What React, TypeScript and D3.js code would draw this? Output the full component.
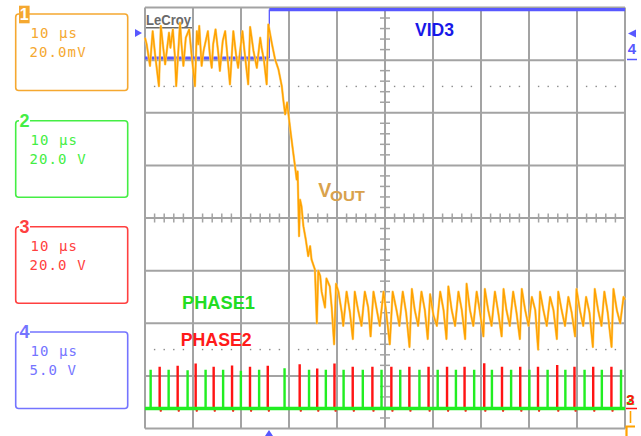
import React from "react";
import * as d3 from "d3";

// screen: 10 µs/div across 10 divisions, 8 vertical divisions
const timeDomain = [0, 100];
const divDomain = [-4, 4];

// channel 1: VOUT, mV (20 mV/div), [µs, mV]
const vOutBefore: [number, number][] = [
  [0, 68.5], [0.35, 66], [1.04, 57.8], [1.6, 71], [2.1, 62.2], [2.9, 50.1], [3.3, 73], [3.8, 64.7],
  [4.2, 58.4], [5.0, 70.4], [5.3, 64.7], [5.8, 71.7], [6.25, 60.9], [6.5, 50.1], [7.3, 74.2], [7.6, 66],
  [8.0, 57.8], [8.5, 68.5], [9.2, 71.7], [9.7, 62.2], [10.4, 50.1], [10.8, 71], [11.1, 66], [11.3, 73],
  [11.8, 57.8], [12.2, 63.5], [13.1, 71], [13.5, 62.2], [13.9, 57.1], [14.2, 66], [14.7, 71.7], [15.3, 62.2],
  [15.6, 55.9], [16.2, 67.3], [16.7, 71], [17.2, 60.9], [17.7, 50.8], [18.4, 71], [18.96, 62.2], [19.4, 57.1],
  [20.3, 71], [20.8, 62.2], [21.5, 50.8], [21.9, 72.6], [22.6, 63.5], [23.3, 57.1], [24.0, 68.5], [24.3, 64.7],
  [24.8, 59.7], [25.35, 50.8], [25.7, 73.6],
];
const vOutFall: [number, number][] = [
  [26.4, 66.6], [27.1, 60.3], [27.8, 56.5], [28.5, 50.1], [28.8, 45.1], [29.2, 39.4], [29.6, 43.9], [30.1, 36.2],
  [30.35, 32.4], [30.8, 26], [31.25, 19.7], [31.6, 14.6], [31.8, 17.7], [32.1, -6.9], [32.3, 7], [32.6, 4.5],
  [33.0, -3.1], [33.5, -8.2], [34.0, -14.5], [34.4, -10.7], [34.7, -15.8], [35.4, -19.6], [35.8, -40], [36.1, -20],
  [36.5, -22],
];
const vOutAfter: [number, number][] = [
  [36.8, -28], [37.5, -34], [37.8, -23], [38.5, -26], [38.9, -34], [39.4, -48], [39.8, -25], [40.3, -28],
  [41.0, -36], [41.3, -41], [42.0, -28], [42.7, -36], [43.3, -46], [43.7, -28], [44.4, -35], [45.1, -41],
  [45.8, -28], [46.5, -34], [47.0, -45], [47.6, -28], [48.3, -35], [48.9, -41], [49.7, -28], [50.2, -35],
  [51.0, -48], [51.6, -28], [52.4, -35], [53.0, -41], [53.7, -28], [54.4, -36], [55.1, -49], [55.6, -27],
  [56.2, -35], [56.9, -41], [57.6, -28], [58.3, -35], [58.9, -46], [59.4, -29], [60.1, -37], [60.8, -41],
  [61.5, -28], [62.2, -35], [62.8, -46], [63.2, -26], [63.9, -35], [64.6, -41], [65.3, -28], [66.0, -35],
  [66.7, -46], [67.0, -25], [67.7, -35], [68.4, -41], [69.1, -28], [69.8, -36], [70.5, -45], [70.8, -27],
  [71.5, -35], [72.2, -41], [72.9, -28], [73.6, -36], [74.3, -45], [74.7, -27], [75.3, -35], [76.0, -41],
  [76.7, -28], [77.4, -36], [78.1, -46], [78.5, -27], [79.2, -35], [79.9, -41], [80.6, -30], [81.3, -35],
  [81.9, -50], [82.3, -28], [83.0, -35], [83.7, -41], [84.4, -30], [85.1, -35], [85.8, -46], [86.1, -28],
  [86.8, -35], [87.5, -41], [88.2, -30], [88.9, -36], [89.6, -45], [89.9, -27], [90.6, -35], [91.3, -41],
  [91.9, -30], [92.6, -36], [93.3, -49], [93.7, -27], [94.4, -35], [95.1, -41], [95.7, -28], [96.4, -36],
  [97.2, -49], [97.6, -27], [98.3, -35], [99.0, -40], [99.7, -30], [100, -31],
];

// channel 4: VID3, V (5 V/div)
const vid3EdgeUs = 25.9;
const vid3Low = 15.2;
const vid3High = 19.8;

// channels 2 and 3: PHASE1 / PHASE2, V (20 V/div)
const phaseGroundV = -72.4;
const phase1Times = [1.1, 4.85, 8.8, 12.55, 16.2, 19.9, 23.7, 29.0, 34.1, 37.6, 41.3, 45.3, 49.2, 53.1, 57.1, 60.9,
  64.7, 68.5, 72.2, 76.2, 80.0, 83.8, 87.5, 91.5, 95.1, 99.1];
const phase1Peaks = [14.4, 14.4, 14.2, 14.4, 14.4, 14.0, 14.4, 15.0, 14.4, 14.4, 14.4, 14.4, 14.4, 14.4, 14.4, 14.4,
  14.4, 14.4, 14.4, 14.4, 14.4, 14.4, 14.4, 14.4, 14.4, 14.4];
const phase2Times = [2.98, 6.73, 10.48, 14.23, 18.06, 21.8, 25.5, 32.15, 35.8, 39.4, 43.2, 47.3, 51.25, 55.0, 59.0,
  62.85, 66.5, 70.6, 74.3, 78.1, 81.8, 85.8, 89.4, 93.3, 97.1];
const phase2Peaks = [15.5, 15.9, 16.8, 15.5, 16.0, 15.5, 15.9, 16.5, 14.9, 16.8, 15.5, 15.5, 15.5, 15.5, 15.5,
  15.5, 15.5, 16.9, 15.5, 15.5, 15.5, 16.2, 15.5, 15.5, 15.5];
const pulseWidthUs = 0.15;
const phase2Undershoot = -1.2;

// channel descriptor boxes
const channelIds = ["1", "2", "3", "4"];
const channelTimebase = ["10 µs", "10 µs", "10 µs", "10 µs"];
const channelScales = ["20.0mV", "20.0 V", "20.0 V", "5.0 V"];

const gridColor = "#a3a3a3";
const orange = "#ffa200";
const green = "#22ee22";
const red = "#ff1414";
const blue = "#5858ff";
const boxColors = ["#f5a830", "#44ee44", "#ff4040", "#7474ff"];
const boxTops = [14, 120.7, 226.7, 332];

const pulsePoints = (times: number[], peaks: number[], dip?: number) => {
  const pts: [number, number][] = [[timeDomain[0], 0]];
  times.forEach((t, i) => {
    pts.push([t, 0], [t, peaks[i]], [t + pulseWidthUs, peaks[i]], [t + pulseWidthUs, 0]);
    if (dip !== undefined) pts.push([t + pulseWidthUs + 0.15, dip], [t + pulseWidthUs + 0.3, 0]);
  });
  pts.push([timeDomain[1], 0]);
  return pts;
};

const App: React.FC = () => {
  const left = 145, right = 625, top = 7.5, bottom = 428.5;
  const x = d3.scaleLinear().domain(timeDomain).range([left, right]);
  const yDiv = d3.scaleLinear().domain(divDomain).range([bottom, top]);
  const yMv = d3.scaleLinear().domain([-80, 80]).range([bottom, top]);
  const y5V = d3.scaleLinear().domain([-20, 20]).range([bottom, top]);
  const y20V = d3.scaleLinear().domain([-80, 80]).range([bottom, top]);

  const majorT = d3.range(0, 101, 10);
  const majorDiv = d3.range(-4, 5, 1);
  const minorT = d3.range(0, 100.01, 2).filter(t => t % 10 !== 0);
  const minorDiv = d3.range(-4, 4.01, 0.2).filter(d => Math.abs(d - Math.round(d)) > 0.01);
  const dotRows = [2.5, -2.5];

  const vOutLine = d3.line<[number, number]>().x(d => x(d[0])).y(d => yMv(d[1]));
  const phaseLine = d3.line<[number, number]>().x(d => x(d[0])).y(d => y20V(d[1] + phaseGroundV));

  const phase1Path = phaseLine(pulsePoints(phase1Times, phase1Peaks)) ?? "";
  const phase2Path = phaseLine(pulsePoints(phase2Times, phase2Peaks, phase2Undershoot)) ?? "";
  const vOutPath = vOutLine([...vOutBefore, ...vOutFall, ...vOutAfter]) ?? "";
  const baseY = y20V(phaseGroundV);

  const mono = "'DejaVu Sans Mono', 'Liberation Mono', monospace";
  const sans = "'Liberation Sans', Arial, sans-serif";

  return (
    <svg width={641} height={436} style={{ position: "absolute", left: 0, top: 0, background: "#fff" }}>
      <rect x={0} y={0} width={641} height={436} fill="#fff" />

      {/* channel boxes */}
      {channelIds.map((id, i) => {
        const bt = boxTops[i];
        const c = boxColors[i];
        return (
          <g key={id}>
            <rect x={15.7} y={bt} width={112} height={76.5} rx={3} fill="none" stroke={c} strokeWidth={1.6} />
            {i === 0 ? (
              <>
                <rect x={19} y={bt - 8.3} width={10.6} height={17.6} fill={c} />
                <text x={24.3} y={bt + 6} textAnchor="middle" fontFamily={sans} fontWeight="bold" fontSize={16} fill="#fff">{id}</text>
              </>
            ) : (
              <>
                <rect x={19} y={bt - 8} width={11} height={12} fill="#fff" />
                <text x={24.5} y={bt + 6} textAnchor="middle" fontFamily={sans} fontWeight="bold" fontSize={18} fill={c}>{id}</text>
              </>
            )}
            <text x={30.5} y={bt + 24} fontFamily={mono} fontSize={14} letterSpacing={1.1} fill={c}>{channelTimebase[i]}</text>
            <text x={29.5} y={bt + 43} fontFamily={mono} fontSize={14} letterSpacing={1.1} fill={c}>{channelScales[i]}</text>
          </g>
        );
      })}

      {/* graticule */}
      <g stroke={gridColor} strokeWidth={2}>
        {majorT.map(t => <line key={`v${t}`} x1={x(t)} x2={x(t)} y1={top} y2={bottom} />)}
        {majorDiv.map(d => <line key={`h${d}`} x1={left} x2={right} y1={yDiv(d)} y2={yDiv(d)} />)}
      </g>
      <g stroke={gridColor} strokeWidth={1.5}>
        {minorT.map(t => <line key={`mt${t}`} x1={x(t)} x2={x(t)} y1={yDiv(0) - 4.5} y2={yDiv(0) + 4.5} />)}
        {minorDiv.map(d => <line key={`md${d}`} x1={x(50) - 5} x2={x(50) + 5} y1={yDiv(d)} y2={yDiv(d)} />)}
      </g>
      <g fill="#8a8a8a">
        {dotRows.map(r => minorT.map(t => <rect key={`d${r}${t}`} x={x(t) - 0.7} y={yDiv(r) - 0.7} width={1.4} height={1.4} />))}
      </g>

      {/* LeCroy logo */}
      <text x={146} y={25} fontFamily={sans} fontWeight="bold" fontSize={14} fill="#6a6a6a" textLength={45} lengthAdjust="spacingAndGlyphs">LeCroy</text>
      <line x1={146} x2={192} y1={27.8} y2={27.8} stroke="#6a6a6a" strokeWidth={1.5} />

      {/* VID3 */}
      <line x1={x(0)} x2={x(vid3EdgeUs)} y1={y5V(vid3Low)} y2={y5V(vid3Low)} stroke={blue} strokeWidth={3.2} />
      <line x1={x(vid3EdgeUs)} x2={x(vid3EdgeUs)} y1={y5V(vid3Low)} y2={y5V(vid3High)} stroke={blue} strokeWidth={1.3} />
      <line x1={x(vid3EdgeUs)} x2={x(100)} y1={y5V(vid3High)} y2={y5V(vid3High)} stroke={blue} strokeWidth={3.2} />

      {/* VOUT */}
      <path d={vOutPath} fill="none" stroke="#ffd27a" strokeWidth={2.4} strokeLinejoin="round" />
      <path d={vOutPath} fill="none" stroke={orange} strokeWidth={1.4} strokeLinejoin="round" />

      {/* PHASE2 then PHASE1 */}
      <path d={phase2Path} fill="none" stroke={red} strokeWidth={1.7} />
      <line x1={x(0)} x2={x(100)} y1={baseY} y2={baseY} stroke={green} strokeWidth={3.4} />
      <path d={phase1Path} fill="none" stroke={green} strokeWidth={1.7} />

      {/* labels */}
      <text x={415} y={36} fontFamily={sans} fontWeight="bold" fontSize={19} fill="#1818e8" textLength={39} lengthAdjust="spacingAndGlyphs">VID3</text>
      <text x={318.3} y={196.7} fontFamily={sans} fontWeight="bold" fontSize={19.5} fill="#d9a24c">V</text>
      <text x={330} y={200.5} fontFamily={sans} fontWeight="bold" fontSize={15} fill="#d9a24c" textLength={35} lengthAdjust="spacingAndGlyphs">OUT</text>
      <text x={182} y={309} fontFamily={sans} fontWeight="bold" fontSize={17.5} fill="#22dd22" textLength={73} lengthAdjust="spacingAndGlyphs">PHASE1</text>
      <text x={180.7} y={345.7} fontFamily={sans} fontWeight="bold" fontSize={17.5} fill="#ff1a1a" textLength={71} lengthAdjust="spacingAndGlyphs">PHASE2</text>

      {/* side markers */}
      <path d="M135,29 L142,33 L135,37 Z" fill={blue} />
      <path d="M636,29.5 L628,33.5 L636,37.5 Z" fill={blue} />
      <text x={632} y={54} textAnchor="middle" fontFamily={sans} fontWeight="bold" fontSize={15} fill={blue}>4</text>
      <line x1={627} x2={637} y1={59.5} y2={59.5} stroke={blue} strokeWidth={1.5} />
      <text x={630.5} y={405} textAnchor="middle" fontFamily={sans} fontWeight="bold" fontSize={15} fill={green}>2</text>
      <text x={630.5} y={405} textAnchor="middle" fontFamily={sans} fontWeight="bold" fontSize={15} fill={red}>3</text>
      <line x1={626} x2={637} y1={baseY} y2={baseY} stroke={red} strokeWidth={1.5} />
      <line x1={630.5} x2={630.5} y1={411} y2={423} stroke={orange} strokeWidth={1.6} />
      <path d="M626.5,436 L626.5,426.5 L635,426.5" fill="none" stroke={orange} strokeWidth={2.2} />
      <path d="M265,436 L269,430 L273,436 Z" fill={blue} />
    </svg>
  );
};

export default App;
